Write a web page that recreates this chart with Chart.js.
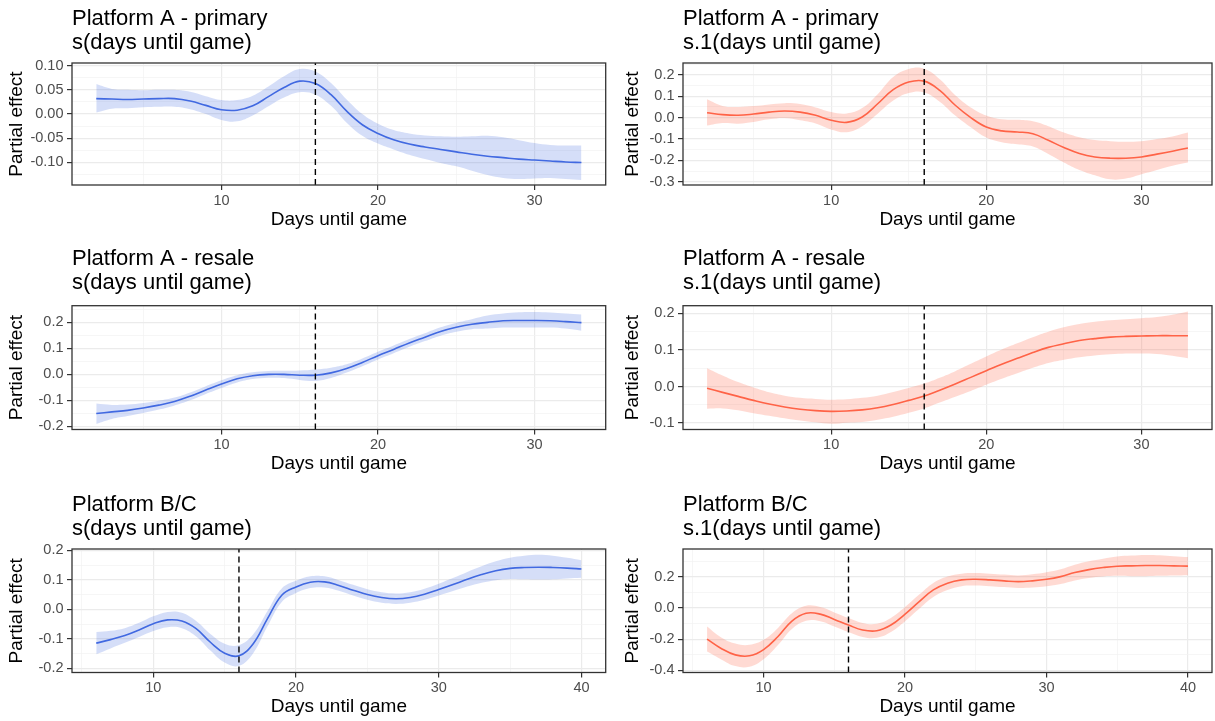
<!DOCTYPE html>
<html>
<head>
<meta charset="utf-8">
<script src="https://cdn.jsdelivr.net/npm/chart.js@4.4.1/dist/chart.umd.min.js"></script>
<style>
html,body{margin:0;padding:0;background:#ffffff;}
body{width:1215px;height:721px;position:relative;overflow:hidden;}
canvas{position:absolute;}
</style>
</head>
<body>
<canvas id="p1"></canvas><canvas id="p2"></canvas>
<canvas id="p3"></canvas><canvas id="p4"></canvas>
<canvas id="p5"></canvas><canvas id="p6"></canvas>
<script>
// ---------- data ----------
const daysA  = [2,3,4,5,6,7,8,9,10,11,12,13,14,15,16,17,18,19,20,21,22,23,24,25,26,27,28,29,30,31,32,33];
const daysBC = [6,7,8,9,10,11,12,13,14,15,16,17,18,19,20,21,22,23,24,25,26,27,28,29,30,31,32,33,34,35,36,37,38,39,40];
const gameDay = 16;

// Platform A - primary, s()
const aPrimSFit   = [0.032,0.031,0.030,0.031,0.032,0.032,0.027,0.018,0.009,0.008,0.017,0.036,0.055,0.068,0.063,0.040,0.006,-0.022,-0.040,-0.053,-0.062,-0.068,-0.073,-0.078,-0.083,-0.087,-0.090,-0.093,-0.095,-0.097,-0.099,-0.100];
const aPrimSUpper = [0.062,0.052,0.050,0.049,0.050,0.050,0.046,0.037,0.029,0.029,0.038,0.057,0.078,0.093,0.088,0.064,0.030,0.000,-0.020,-0.033,-0.040,-0.044,-0.046,-0.047,-0.046,-0.045,-0.048,-0.054,-0.060,-0.064,-0.065,-0.065];
const aPrimSLower = [0.003,0.011,0.012,0.014,0.015,0.015,0.010,0.000,-0.012,-0.015,-0.003,0.016,0.034,0.045,0.040,0.017,-0.018,-0.045,-0.061,-0.073,-0.084,-0.093,-0.101,-0.108,-0.117,-0.126,-0.132,-0.134,-0.133,-0.132,-0.134,-0.136];

// Platform A - primary, s.1()
const aPrimS1Fit   = [0.023,0.014,0.011,0.017,0.026,0.031,0.026,0.011,-0.012,-0.022,0.003,0.065,0.131,0.167,0.171,0.128,0.058,0.000,-0.044,-0.062,-0.067,-0.075,-0.106,-0.140,-0.168,-0.184,-0.190,-0.190,-0.184,-0.171,-0.157,-0.142];
const aPrimS1Upper = [0.086,0.055,0.050,0.054,0.062,0.068,0.064,0.048,0.027,0.020,0.045,0.110,0.190,0.228,0.229,0.180,0.105,0.048,0.010,-0.008,-0.010,-0.017,-0.040,-0.070,-0.092,-0.105,-0.110,-0.113,-0.110,-0.100,-0.088,-0.070];
const aPrimS1Lower = [-0.037,-0.025,-0.028,-0.020,-0.008,-0.002,-0.012,-0.027,-0.055,-0.068,-0.040,0.018,0.080,0.115,0.118,0.075,0.010,-0.045,-0.093,-0.115,-0.125,-0.135,-0.170,-0.210,-0.245,-0.270,-0.289,-0.285,-0.265,-0.245,-0.225,-0.210];

// Platform A - resale, s()
const aResSFit   = [-0.150,-0.144,-0.138,-0.129,-0.118,-0.104,-0.084,-0.060,-0.037,-0.017,-0.005,0.000,0.000,-0.003,-0.003,0.006,0.023,0.046,0.072,0.096,0.121,0.143,0.165,0.181,0.193,0.200,0.206,0.207,0.207,0.206,0.203,0.199];
const aResSUpper = [-0.112,-0.117,-0.116,-0.110,-0.101,-0.089,-0.069,-0.045,-0.022,-0.003,0.008,0.013,0.014,0.015,0.019,0.026,0.039,0.061,0.087,0.111,0.136,0.158,0.181,0.198,0.212,0.226,0.234,0.239,0.240,0.238,0.234,0.230];
const aResSLower = [-0.190,-0.171,-0.160,-0.148,-0.135,-0.119,-0.099,-0.075,-0.052,-0.031,-0.018,-0.013,-0.014,-0.021,-0.025,-0.014,0.007,0.031,0.057,0.081,0.106,0.128,0.149,0.164,0.174,0.176,0.180,0.180,0.180,0.180,0.176,0.168];

// Platform A - resale, s.1()
const aResS1Fit   = [-0.005,-0.016,-0.027,-0.038,-0.048,-0.056,-0.062,-0.066,-0.068,-0.067,-0.064,-0.058,-0.049,-0.038,-0.026,-0.010,0.007,0.025,0.043,0.061,0.077,0.093,0.107,0.117,0.126,0.131,0.135,0.137,0.138,0.139,0.139,0.139];
const aResS1Upper = [0.050,0.030,0.012,-0.003,-0.016,-0.025,-0.031,-0.034,-0.036,-0.035,-0.031,-0.025,-0.015,-0.004,0.008,0.024,0.042,0.062,0.082,0.101,0.118,0.135,0.150,0.162,0.171,0.177,0.181,0.184,0.187,0.190,0.196,0.205];
const aResS1Lower = [-0.061,-0.060,-0.065,-0.073,-0.080,-0.087,-0.093,-0.098,-0.102,-0.099,-0.097,-0.091,-0.083,-0.072,-0.060,-0.044,-0.028,-0.012,0.005,0.021,0.036,0.051,0.064,0.073,0.080,0.085,0.088,0.090,0.090,0.089,0.084,0.077];

// Platform B/C, s()
const bcSFit   = [-0.115,-0.103,-0.089,-0.070,-0.049,-0.036,-0.040,-0.066,-0.112,-0.149,-0.158,-0.117,-0.032,0.048,0.076,0.092,0.093,0.081,0.065,0.050,0.040,0.036,0.040,0.051,0.067,0.084,0.102,0.118,0.131,0.139,0.142,0.143,0.142,0.140,0.137];
const bcSUpper = [-0.077,-0.073,-0.064,-0.046,-0.024,-0.009,-0.012,-0.040,-0.084,-0.117,-0.122,-0.085,-0.006,0.071,0.097,0.112,0.112,0.099,0.083,0.068,0.058,0.054,0.058,0.070,0.087,0.106,0.127,0.146,0.163,0.175,0.182,0.185,0.182,0.175,0.167];
const bcSLower = [-0.153,-0.133,-0.114,-0.094,-0.074,-0.061,-0.064,-0.092,-0.140,-0.181,-0.192,-0.149,-0.058,0.025,0.055,0.072,0.074,0.063,0.047,0.032,0.022,0.018,0.022,0.032,0.047,0.062,0.077,0.090,0.099,0.103,0.102,0.101,0.102,0.105,0.107];

// Platform B/C, s.1()
const bcS1Fit   = [-0.199,-0.259,-0.300,-0.306,-0.266,-0.184,-0.084,-0.034,-0.039,-0.073,-0.109,-0.141,-0.146,-0.109,-0.039,0.041,0.116,0.159,0.180,0.184,0.180,0.174,0.169,0.174,0.184,0.201,0.227,0.246,0.259,0.268,0.270,0.272,0.272,0.270,0.268];
const bcS1Upper = [-0.119,-0.189,-0.228,-0.236,-0.204,-0.129,-0.034,0.014,0.006,-0.028,-0.064,-0.096,-0.101,-0.064,0.006,0.086,0.161,0.202,0.220,0.224,0.220,0.214,0.209,0.216,0.229,0.248,0.277,0.299,0.316,0.330,0.336,0.340,0.338,0.332,0.326];
const bcS1Lower = [-0.279,-0.329,-0.372,-0.376,-0.328,-0.239,-0.134,-0.082,-0.084,-0.118,-0.154,-0.186,-0.191,-0.154,-0.084,-0.004,0.071,0.116,0.140,0.144,0.140,0.134,0.129,0.132,0.139,0.154,0.177,0.193,0.202,0.206,0.204,0.204,0.206,0.208,0.210];

// tick labels
const xTicksA  = [10,20,30];
const xLabelsA = ['10','20','30'];
const xTicksBC  = [10,20,30,40];
const xLabelsBC = ['10','20','30','40'];
const yTicks1 = [-0.10,-0.05,0.00,0.05,0.10];  const yLabels1 = ['-0.10','-0.05','0.00','0.05','0.10'];
const yTicks2 = [-0.3,-0.2,-0.1,0.0,0.1,0.2];  const yLabels2 = ['-0.3','-0.2','-0.1','0.0','0.1','0.2'];
const yTicks3 = [-0.2,-0.1,0.0,0.1,0.2];       const yLabels3 = ['-0.2','-0.1','0.0','0.1','0.2'];
const yTicks4 = [-0.1,0.0,0.1,0.2];            const yLabels4 = ['-0.1','0.0','0.1','0.2'];
const yTicks5 = [-0.2,-0.1,0.0,0.1,0.2];       const yLabels5 = ['-0.2','-0.1','0.0','0.1','0.2'];
const yTicks6 = [-0.4,-0.2,0.0,0.2];           const yLabels6 = ['-0.4','-0.2','0.0','0.2'];

const titleTop = ['Platform A - primary','Platform A - primary','Platform A - resale','Platform A - resale','Platform B/C','Platform B/C'];
const titleSub = ['s(days until game)','s.1(days until game)','s(days until game)','s.1(days until game)','s(days until game)','s.1(days until game)'];
const xTitle = 'Days until game';
const yTitle = 'Partial effect';

// ---------- styling / layout ----------
const FONT = "'Liberation Sans', Arial, Helvetica, sans-serif";
const BLUE = 'rgb(65,105,225)', BLUE_RIB = 'rgba(65,105,225,0.22)';
const RED = 'rgb(255,99,71)', RED_RIB = 'rgba(255,99,71,0.24)';
const ROWS = [
  {top:0,   h:240, tPadTop:7.0,  tPadBottom:8.0,  xH:46.0, padBottom:9.0},
  {top:240, h:240, tPadTop:7.3,  tPadBottom:10.4, xH:45.3, padBottom:5.2},
  {top:480, h:241, tPadTop:12.5, tPadBottom:8.5,  xH:45.3, padBottom:3.2}
];
const COLS = [
  {left:0,   w:607, yW:72, yTitlePad:5.6,  padRight:1.3},
  {left:607, w:608, yW:76, yTitlePad:14.6, padRight:3.0}
];

const panels = [
  {id:'p1', row:0, col:0, days:daysA, fit:aPrimSFit, lo:aPrimSLower, hi:aPrimSUpper, line:BLUE, rib:BLUE_RIB,
   yMin:-0.1465, yMax:0.1055, yT:yTicks1, yL:yLabels1, xMin:0.45, xMax:34.55, xT:xTicksA, xL:xLabelsA},
  {id:'p2', row:0, col:1, days:daysA, fit:aPrimS1Fit, lo:aPrimS1Lower, hi:aPrimS1Upper, line:RED, rib:RED_RIB,
   yMin:-0.3155, yMax:0.256, yT:yTicks2, yL:yLabels2, xMin:0.45, xMax:34.55, xT:xTicksA, xL:xLabelsA},
  {id:'p3', row:1, col:0, days:daysA, fit:aResSFit, lo:aResSLower, hi:aResSUpper, line:BLUE, rib:BLUE_RIB,
   yMin:-0.2116, yMax:0.264, yT:yTicks3, yL:yLabels3, xMin:0.45, xMax:34.55, xT:xTicksA, xL:xLabelsA},
  {id:'p4', row:1, col:1, days:daysA, fit:aResS1Fit, lo:aResS1Lower, hi:aResS1Upper, line:RED, rib:RED_RIB,
   yMin:-0.1176, yMax:0.221, yT:yTicks4, yL:yLabels4, xMin:0.45, xMax:34.55, xT:xTicksA, xL:xLabelsA},
  {id:'p5', row:2, col:0, days:daysBC, fit:bcSFit, lo:bcSLower, hi:bcSUpper, line:BLUE, rib:BLUE_RIB,
   yMin:-0.2147, yMax:0.2048, yT:yTicks5, yL:yLabels5, xMin:4.3, xMax:41.7, xT:xTicksBC, xL:xLabelsBC},
  {id:'p6', row:2, col:1, days:daysBC, fit:bcS1Fit, lo:bcS1Lower, hi:bcS1Upper, line:RED, rib:RED_RIB,
   yMin:-0.413, yMax:0.378, yT:yTicks6, yL:yLabels6, xMin:4.3, xMax:41.7, xT:xTicksBC, xL:xLabelsBC}
];

const framePlugin = {
  id: 'panelFrame',
  afterDatasetsDraw(chart) {
    const a = chart.chartArea, c = chart.ctx;
    c.save();
    c.strokeStyle = '#333333';
    c.lineWidth = 1.3;
    c.strokeRect(a.left, a.top, a.right - a.left, a.bottom - a.top);
    c.restore();
  }
};

function withMinors(major, lo, hi) {
  const step = major[1] - major[0];
  const out = major.map(v => ({v, major:true}));
  for (let k = -1; k < major.length; k++) {
    const m = major[0] + step * (k + 0.5);
    if (m > lo && m < hi) out.push({v: Math.round(m * 1e6) / 1e6, major:false});
  }
  return out.sort((a, b) => a.v - b.v);
}

function axisCommon(allTicks, labels, majors) {
  const isMajor = v => majors.some(m => Math.abs(m - v) < 1e-9);
  return {
    afterBuildTicks: s => { s.ticks = allTicks.map(t => ({value: t.v})); },
    ticks: {
      autoSkip: false, maxRotation: 0, minRotation: 0,
      color: '#4D4D4D', font: {family: FONT, size: 14.5},
      callback: (v) => { const i = majors.findIndex(m => Math.abs(m - v) < 1e-9); return i >= 0 ? labels[i] : ''; }
    },
    grid: {
      drawOnChartArea: true, drawTicks: true, tickLength: 5,
      color: ctx => (ctx.tick && isMajor(ctx.tick.value)) ? '#EBEBEB' : '#F2F2F2',
      lineWidth: ctx => (ctx.tick && isMajor(ctx.tick.value)) ? 1.2 : 0.7,
      tickColor: ctx => (ctx.tick && isMajor(ctx.tick.value)) ? '#333333' : 'rgba(0,0,0,0)',
      tickWidth: 1.2
    },
    border: {display: false}
  };
}

panels.forEach((p, idx) => {
  const row = ROWS[p.row], col = COLS[p.col];
  const cv = document.getElementById(p.id);
  cv.width = col.w; cv.height = row.h;
  cv.style.left = col.left + 'px'; cv.style.top = row.top + 'px';
  cv.style.width = col.w + 'px'; cv.style.height = row.h + 'px';

  const yAll = withMinors(p.yT, p.yMin, p.yMax);
  const xAll = withMinors(p.xT, p.xMin, p.xMax);

  const xAxis = axisCommon(xAll, p.xL, p.xT);
  xAxis.type = 'linear'; xAxis.position = 'bottom';
  xAxis.min = p.xMin; xAxis.max = p.xMax;
  xAxis.ticks.padding = 2;
  xAxis.title = {display: true, text: xTitle, color: '#000000', font: {family: FONT, size: 19, lineHeight: 1.2}, padding: {top: 0, bottom: 0}};
  xAxis.afterFit = s => { s.height = row.xH; };

  const yAxis = axisCommon(yAll, p.yL, p.yT);
  yAxis.type = 'linear'; yAxis.position = 'left';
  yAxis.min = p.yMin; yAxis.max = p.yMax;
  yAxis.ticks.padding = 3.5;
  yAxis.title = {display: true, text: yTitle, color: '#000000', font: {family: FONT, size: 19, lineHeight: 1.2}, padding: {top: col.yTitlePad, bottom: 0}};
  yAxis.afterFit = s => { s.width = col.yW; };

  const pts = arr => p.days.map((d, i) => ({x: d, y: arr[i]}));

  new Chart(cv, {
    type: 'line',
    data: {
      datasets: [
        {label: 'game day', data: [{x: gameDay, y: p.yMin}, {x: gameDay, y: p.yMax}],
         borderColor: '#000000', borderWidth: 1.4, borderDash: [6, 4], pointRadius: 0, fill: false, tension: 0},
        {label: 'fit', data: pts(p.fit), borderColor: p.line, borderWidth: 1.6, pointRadius: 0,
         fill: false, tension: 0.4},
        {label: 'upper', data: pts(p.hi), borderColor: 'rgba(0,0,0,0)', borderWidth: 0, pointRadius: 0,
         backgroundColor: p.rib, fill: '+1', tension: 0.4},
        {label: 'lower', data: pts(p.lo), borderColor: 'rgba(0,0,0,0)', borderWidth: 0, pointRadius: 0,
         fill: false, tension: 0.4}
      ]
    },
    options: {
      responsive: false, maintainAspectRatio: false, devicePixelRatio: 1, animation: false, events: [],
      layout: {padding: {left: 0, top: 0, right: col.padRight, bottom: row.padBottom}},
      scales: {x: xAxis, y: yAxis},
      plugins: {
        legend: {display: false}, tooltip: {enabled: false},
        title: {display: true, text: [titleTop[idx], titleSub[idx]], align: 'start', fullSize: false,
                color: '#000000', font: {family: FONT, size: 22, weight: 'normal', lineHeight: '24px'},
                padding: {top: row.tPadTop, bottom: row.tPadBottom}}
      }
    },
    plugins: [framePlugin]
  });
});
</script>
</body>
</html>
